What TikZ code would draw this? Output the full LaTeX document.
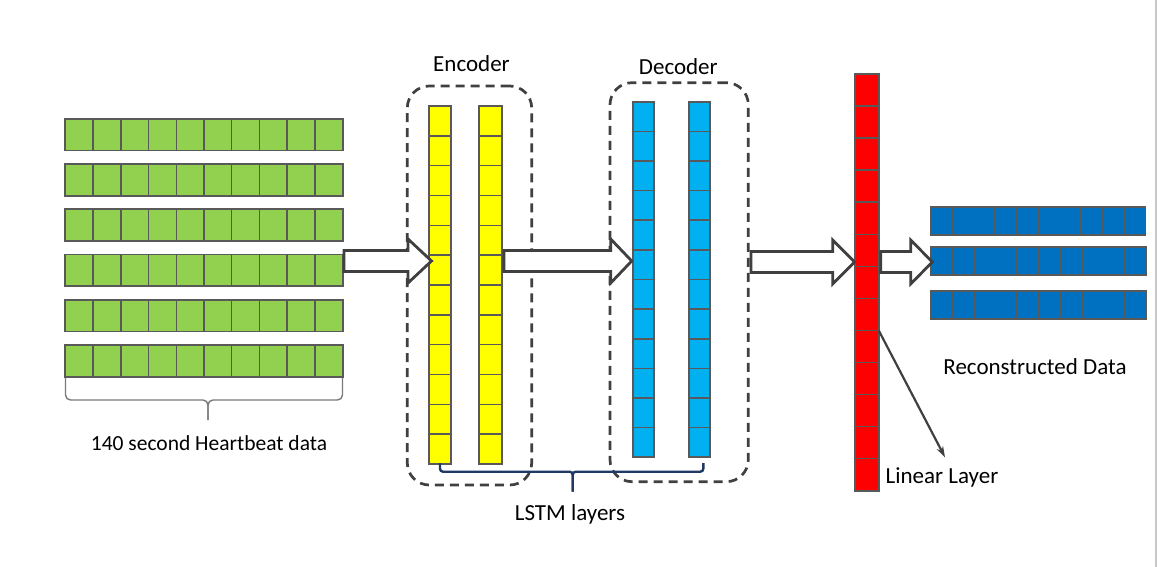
\documentclass[tikz,border=0pt]{standalone}
\usepackage{fontspec}
\setmainfont{Carlito}
\usetikzlibrary{arrows.meta,calc,fit}
\definecolor{cgreen}{HTML}{92D050}
\definecolor{cyellow}{HTML}{FFFF00}
\definecolor{clblue}{HTML}{00B0F0}
\definecolor{cred}{HTML}{FF0000}
\definecolor{cblue}{HTML}{0070C0}
\definecolor{cedge}{HTML}{595959}
\definecolor{cdark}{HTML}{404040}
\definecolor{cnavy}{HTML}{203864}
\tikzset{
  block/.style={draw=cedge, line width=1.7pt, inner sep=0pt, outer sep=0pt},
  cell/.style={draw=cedge, line width=1.5pt},
  dbox/.style={draw=cdark, line width=2.7pt, dash pattern=on 9pt off 6pt, rounded corners=22pt, inner sep=0pt},
  barrow/.style={draw=cdark, fill=white, line width=2.8pt, line join=miter},
  lbl/.style={font=\fontsize{23}{27}\selectfont, text=black, inner sep=0pt},
  lblsmall/.style={font=\fontsize{21.5}{26}\selectfont, text=black, inner sep=0pt},
}
\newcommand{\vdivs}[2]{% vertical dividers: name, number of cells
  \pgfmathtruncatemacro\nmx{#2-1}
  \foreach \i in {1,...,\nmx}{
    \draw[cell] ($(#1.north west)!{\i/#2}!(#1.north east)$) -- ($(#1.south west)!{\i/#2}!(#1.south east)$);}
}
\newcommand{\hdivs}[2]{% horizontal dividers: name, number of cells
  \pgfmathtruncatemacro\nmy{#2-1}
  \foreach \i in {1,...,\nmy}{
    \draw[cell] ($(#1.north west)!{\i/#2}!(#1.south west)$) -- ($(#1.north east)!{\i/#2}!(#1.south east)$);}
}
\newcommand{\blockarrow}[4]{% start x, head start x, tip x, centre y
  \draw[barrow] (#1,#4-10.5) -- (#2,#4-10.5) -- (#2,#4-22) -- (#3,#4) -- (#2,#4+22) -- (#2,#4+10.5) -- (#1,#4+10.5) -- cycle;
}
\begin{document}
\begin{tikzpicture}[x=1pt,y=-1pt]
\useasboundingbox (0,0) rectangle (1157,567);
\fill[white] (0,0) rectangle (1157,567);
\draw[black!22, line width=1.5pt] (1156,0) -- (1156,567);

% green input rows
\foreach \r in {0,...,5}{
  \node[block, fill=cgreen, fit={(65.3,{118.7+45.3*\r}) (342.7,{150.4+45.3*\r})}] (g\r) {};
  \vdivs{g\r}{10}
}
% brace under input
\draw[cedge!80, line width=1.4pt, rounded corners=5pt] (65.5,378) -- (65.5,400) -- (208,400) -- (208,420);
\draw[cedge!80, line width=1.4pt, rounded corners=5pt] (342.5,378) -- (342.5,400) -- (208,400) -- (208,420);
\node[lblsmall] (inlbl) at (209,443) {140 second Heartbeat data};

% encoder / decoder dashed boxes
\node[dbox, fit={(407.3,86) (531.7,485)}] (enc) {};
\node[dbox, fit={(610,82.7) (748.3,481.7)}] (dec) {};
\node[lbl] (enclbl) at (471.5,64) {Encoder};
\node[lbl] (declbl) at (678.3,67) {Decoder};

% encoder columns
\node[block, fill=cyellow, fit={(429,106) (451,464)}] (y1) {};
\hdivs{y1}{12}
\node[block, fill=cyellow, fit={(479.3,106) (501.7,464)}] (y2) {};
\hdivs{y2}{12}
% decoder columns
\node[block, fill=clblue, fit={(632.7,101.7) (654.3,457.3)}] (b1) {};
\hdivs{b1}{12}
\node[block, fill=clblue, fit={(688.7,101.7) (710.3,457.3)}] (b2) {};
\hdivs{b2}{12}
% linear layer
\node[block, fill=cred, fit={(855.3,74) (878.7,490.7)}] (red) {};
\hdivs{red}{13}
% reconstructed rows
\node[block, fill=cblue, fit={(930.5,206.7) (1145.5,235)}] (o1) {};
\vdivs{o1}{10}
\node[block, fill=cblue, fit={(931,247.3) (1146.5,275.3)}] (o2) {};
\vdivs{o2}{10}
\node[block, fill=cblue, fit={(931,290.7) (1146.5,319)}] (o3) {};
\vdivs{o3}{10}
\node[lbl] (outlbl) at (1035,367) {Reconstructed Data};

% block arrows
\blockarrow{344}{408}{431.5}{261}
\blockarrow{504}{610.7}{631.7}{261}
\blockarrow{751}{832.7}{854.5}{262}
\blockarrow{880.7}{910.7}{932.3}{262}

% LSTM brace
\draw[cnavy, line width=2.4pt, rounded corners=3pt] (440,463) -- (440,471.7) -- (572.7,471.7) -- (572.7,491.7);
\draw[cnavy, line width=2.4pt, rounded corners=3pt] (703.3,463) -- (703.3,471.7) -- (572.7,471.7) -- (572.7,491.7);
\node[lbl] (lstmlbl) at (570,514) {LSTM layers};

% linear layer pointer
\coordinate (llend) at (945,457.3);
\draw[cdark, line width=2.2pt, -{Stealth[length=11pt,width=7pt]}] ($(red.north east)!{8/13}!(red.south east)$) -- (llend);
\node[lbl, anchor=west] (linlbl) at (885.5,477.5) {Linear Layer};
\end{tikzpicture}
\end{document}
